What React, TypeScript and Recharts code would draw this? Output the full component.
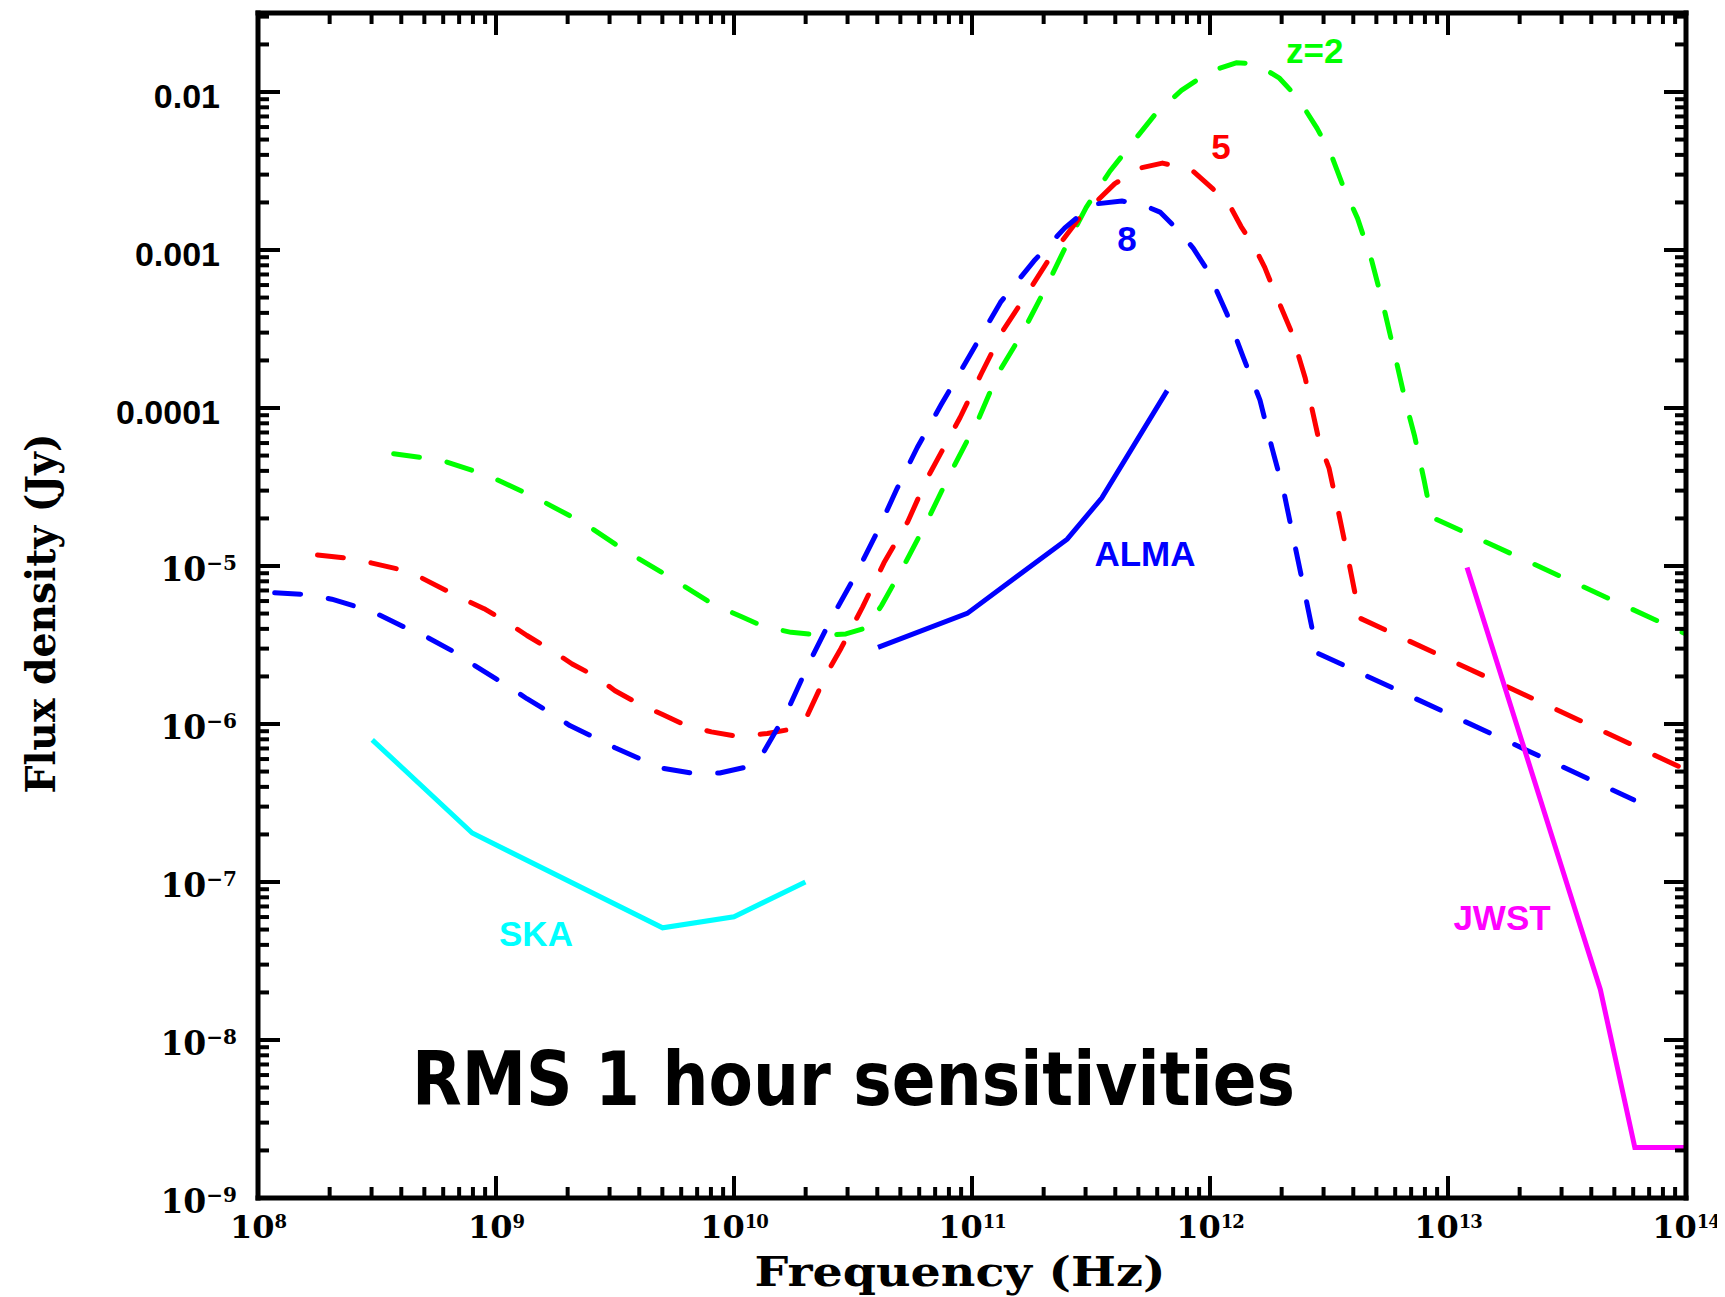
import React from 'react';
import { LineChart, Line, XAxis, YAxis, ReferenceDot } from 'recharts';

// All values: log10(frequency / Hz) and log10(flux density / Jy)

// z = 2 model (green, dashed)
const z2LogNu = [8.57, 8.77, 8.97, 9.17, 9.37, 9.54, 9.73, 9.91, 10.03, 10.12, 10.24, 10.38, 10.47, 10.56, 10.62, 10.72, 10.81, 10.9, 11.03, 11.11, 11.21, 11.31, 11.39, 11.48, 11.58, 11.68, 11.77, 11.88, 12.0, 12.11, 12.19, 12.29, 12.37, 12.45, 12.51, 12.56, 12.62, 12.68, 12.72, 12.77, 12.82, 12.86, 12.9, 12.93, 14.0];
const z2LogS = [-4.29, -4.33, -4.43, -4.57, -4.73, -4.9, -5.07, -5.24, -5.32, -5.38, -5.42, -5.44, -5.43, -5.39, -5.25, -4.98, -4.72, -4.44, -4.06, -3.78, -3.53, -3.24, -2.99, -2.73, -2.5, -2.31, -2.14, -1.99, -1.87, -1.815, -1.82, -1.91, -2.04, -2.23, -2.4, -2.6, -2.8, -3.07, -3.3, -3.62, -3.95, -4.18, -4.46, -4.69, -5.43];

// z = 5 model (red, dashed)
const z5LogNu = [8.25, 8.37, 8.475, 8.59, 8.68, 8.85, 8.95, 9.05, 9.13, 9.23, 9.32, 9.42, 9.5, 9.61, 9.7, 9.8, 9.905, 10.02, 10.14, 10.25, 10.31, 10.39, 10.45, 10.54, 10.63, 10.73, 10.81, 10.95, 11.04, 11.13, 11.23, 11.34, 11.45, 11.6, 11.71, 11.8, 11.92, 12.01, 12.08, 12.13, 12.19, 12.23, 12.27, 12.34, 12.4, 12.46, 12.5, 12.54, 12.58, 12.63, 14.0];
const z5LogS = [-4.93, -4.95, -4.98, -5.02, -5.07, -5.2, -5.27, -5.36, -5.44, -5.53, -5.62, -5.7, -5.79, -5.88, -5.94, -6.01, -6.05, -6.08, -6.06, -6.03, -5.94, -5.68, -5.52, -5.26, -4.98, -4.72, -4.45, -4.06, -3.78, -3.51, -3.28, -3.02, -2.8, -2.58, -2.48, -2.45, -2.49, -2.61, -2.71, -2.85, -2.99, -3.11, -3.26, -3.51, -3.81, -4.22, -4.38, -4.66, -4.95, -5.33, -6.29];

// z = 8 model (blue, dashed)
const z8LogNu = [8.07, 8.2, 8.31, 8.42, 8.51, 8.62, 8.71, 8.82, 8.9, 9.05, 9.13, 9.23, 9.31, 9.42, 9.5, 9.62, 9.7, 9.82, 9.94, 10.06, 10.12, 10.22, 10.32, 10.41, 10.51, 10.6, 10.685, 10.77, 10.87, 11.02, 11.12, 11.26, 11.39, 11.51, 11.63, 11.71, 11.79, 11.87, 11.93, 11.99, 12.07, 12.14, 12.21, 12.26, 12.31, 12.35, 12.39, 12.45, 13.78];
const z8LogS = [-5.17, -5.18, -5.21, -5.26, -5.31, -5.39, -5.45, -5.54, -5.62, -5.76, -5.84, -5.93, -6.01, -6.09, -6.15, -6.23, -6.28, -6.31, -6.31, -6.27, -6.19, -5.93, -5.6, -5.33, -5.06, -4.79, -4.51, -4.25, -3.98, -3.59, -3.33, -3.07, -2.86, -2.71, -2.69, -2.71, -2.76, -2.88, -2.99, -3.13, -3.4, -3.68, -3.95, -4.25, -4.53, -4.82, -5.11, -5.55, -6.48];

// Instrument sensitivities (solid)
const skaLogNu = [8.48, 8.9, 9.7, 10.0, 10.3];
const skaLogS = [-6.1, -6.69, -7.29, -7.22, -7.0];
const almaLogNu = [10.605, 10.98, 11.4, 11.545, 11.82];
const almaLogS = [-5.515, -5.3, -4.83, -4.57, -3.89];
const jwstLogNu = [13.08, 13.64, 13.785, 14.0];
const jwstLogS = [-5.01, -7.68, -8.68, -8.68];

// Text annotations, placed in data space
const labelTexts = ['z=2', '5', '8', 'ALMA', 'SKA', 'JWST'];
const labelLogNu = [12.44, 12.046, 11.651, 11.727, 9.168, 13.227];
const labelLogS = [-1.74, -2.346, -2.928, -4.92, -7.324, -7.223];
const labelColors = ['#00ff00', '#ff0000', '#0000ff', '#0000ff', '#00ffff', '#ff00ff'];
const titleText = 'RMS 1 hour sensitivities';
const titleLogNu = 8.647;
const titleLogS = -8.412;

// Axes
const xMajorExp = [8, 9, 10, 11, 12, 13, 14];
const yMajorExp = [-9, -8, -7, -6, -5, -4, -3, -2];
const yDecimalLabels: Record<string, string> = { '-2': '0.01', '-3': '0.001', '-4': '0.0001' };
const minorMultipliers = [2, 3, 4, 5, 6, 7, 8, 9];
const xDomain = [1e8, 1e14];
const yDomain = [1e-9, Math.pow(10, -1.5)];

const rows = (lx: number[], ls: number[]) => lx.map((v, i) => ({ nu: Math.pow(10, v), s: Math.pow(10, ls[i]) }));
const z2Data = rows(z2LogNu, z2LogS);
const z5Data = rows(z5LogNu, z5LogS);
const z8Data = rows(z8LogNu, z8LogS);
const skaData = rows(skaLogNu, skaLogS);
const almaData = rows(almaLogNu, almaLogS);
const jwstData = rows(jwstLogNu, jwstLogS);

const withMinor = (majors: number[], maxVal: number) => {
  const out: number[] = [];
  majors.forEach((e) => {
    out.push(Math.pow(10, e));
    minorMultipliers.forEach((k) => {
      const v = k * Math.pow(10, e);
      if (v < maxVal * 0.999) out.push(v);
    });
  });
  return out;
};
const xTicks = withMinor(xMajorExp, xDomain[1]);
const yTicks = withMinor(yMajorExp, yDomain[1]);

const isMajor = (v: number) => {
  const e = Math.log10(v);
  return Math.abs(e - Math.round(e)) < 1e-6;
};

const MAJ = 22;
const MIN = 11;
const TW = 4;
const serif = 'DejaVu Serif';
const sans = 'Liberation Sans, Arial, sans-serif';

const BottomTick = (p: any) => {
  const { x, y, payload } = p;
  const major = isMajor(payload.value);
  const e = Math.round(Math.log10(payload.value));
  return (
    <g>
      <line x1={x} x2={x} y1={y} y2={y - (major ? MAJ : MIN)} stroke="#000" strokeWidth={TW} />
      {major && (
        <text x={x} y={y + 40} textAnchor="middle" fontFamily={serif} fontWeight="bold" fontSize={32} fill="#000">
          10<tspan dy={-10} fontSize={18} letterSpacing={-1}>{e}</tspan>
        </text>
      )}
    </g>
  );
};

const TopTick = (p: any) => {
  const { x, y, payload } = p;
  const major = isMajor(payload.value);
  return <line x1={x} x2={x} y1={y} y2={y + (major ? MAJ : MIN)} stroke="#000" strokeWidth={TW} />;
};

const LeftTick = (p: any) => {
  const { x, y, payload } = p;
  const major = isMajor(payload.value);
  const e = Math.round(Math.log10(payload.value));
  let label: any = null;
  if (major) {
    const dec = yDecimalLabels[String(e)];
    if (dec) {
      label = (
        <text x={x - 38} y={y + 16} textAnchor="end" fontFamily={sans} fontWeight="bold" fontSize={34} fill="#000">
          {dec}
        </text>
      );
    } else {
      label = (
        <text x={x - 21} y={y + 15} textAnchor="end" fontFamily={serif} fontWeight="bold" fontSize={33} fill="#000">
          10<tspan dy={-11} fontSize={20}>{'\u2212' + Math.abs(e)}</tspan>
        </text>
      );
    }
  }
  return (
    <g>
      <line x1={x} x2={x + (major ? MAJ : MIN)} y1={y} y2={y} stroke="#000" strokeWidth={TW} />
      {label}
    </g>
  );
};

const RightTick = (p: any) => {
  const { x, y, payload } = p;
  const major = isMajor(payload.value);
  return <line x1={x} x2={x - (major ? MAJ : MIN)} y1={y} y2={y} stroke="#000" strokeWidth={TW} />;
};

const axisLine = { stroke: '#000', strokeWidth: 5, strokeLinecap: 'square' as const };
const dash = '26 28';

export default function App() {
  return (
    <LineChart width={1717} height={1289} margin={{ top: 4, right: 38, bottom: 98, left: 249 }} style={{ overflow: 'visible' }}>
      <XAxis
        xAxisId="b"
        dataKey="nu"
        type="number"
        scale="log"
        domain={xDomain}
        allowDataOverflow
        ticks={xTicks}
        interval={0}
        height={1}
        tickSize={0}
        tickMargin={0}
        tickLine={false}
        axisLine={axisLine}
        tick={BottomTick}
        label={{
          content: (lp: any) => {
            const vb = lp.viewBox || { x: 250, y: 1190, width: 1428 };
            return (
              <text
                x={vb.x + vb.width / 2 - 12}
                y={vb.y + 88}
                textAnchor="middle"
                fontFamily={serif}
                fontWeight="bold"
                fontSize={41}
                textLength={411}
                lengthAdjust="spacingAndGlyphs"
                fill="#000"
              >
                Frequency (Hz)
              </text>
            );
          },
        }}
      />
      <XAxis
        xAxisId="t"
        orientation="top"
        dataKey="nu"
        type="number"
        scale="log"
        domain={xDomain}
        allowDataOverflow
        ticks={xTicks}
        interval={0}
        height={1}
        tickSize={0}
        tickMargin={0}
        tickLine={false}
        axisLine={axisLine}
        tick={TopTick}
      />
      <YAxis
        yAxisId="l"
        dataKey="s"
        type="number"
        scale="log"
        domain={yDomain}
        allowDataOverflow
        ticks={yTicks}
        interval={0}
        width={1}
        tickSize={0}
        tickMargin={0}
        tickLine={false}
        axisLine={axisLine}
        tick={LeftTick}
        label={{
          content: (lp: any) => {
            const vb = lp.viewBox || { x: 249, y: 5, width: 1, height: 1185 };
            const cx = vb.x + (vb.width || 0) - 203;
            const cy = vb.y + vb.height / 2 + 8;
            return (
              <text
                x={0}
                y={0}
                transform={`translate(${cx}, ${cy}) rotate(-90)`}
                textAnchor="middle"
                fontFamily={serif}
                fontWeight="bold"
                fontSize={41}
                textLength={360}
                lengthAdjust="spacingAndGlyphs"
                fill="#000"
              >
                Flux density (Jy)
              </text>
            );
          },
        }}
      />
      <YAxis
        yAxisId="r"
        orientation="right"
        dataKey="s"
        type="number"
        scale="log"
        domain={yDomain}
        allowDataOverflow
        ticks={yTicks}
        interval={0}
        width={1}
        tickSize={0}
        tickMargin={0}
        tickLine={false}
        axisLine={axisLine}
        tick={RightTick}
      />

      <Line xAxisId="b" yAxisId="l" data={z2Data} dataKey="s" type="linear" stroke="#00ff00" strokeWidth={5} strokeDasharray={dash} strokeLinecap="round" strokeLinejoin="round" dot={false} activeDot={false} isAnimationActive={false} />
      <Line xAxisId="b" yAxisId="l" data={z5Data} dataKey="s" type="linear" stroke="#ff0000" strokeWidth={5} strokeDasharray={dash} strokeLinecap="round" strokeLinejoin="round" dot={false} activeDot={false} isAnimationActive={false} />
      <Line xAxisId="b" yAxisId="l" data={z8Data} dataKey="s" type="linear" stroke="#0000ff" strokeWidth={5} strokeDasharray={dash} strokeLinecap="round" strokeLinejoin="round" dot={false} activeDot={false} isAnimationActive={false} />
      <Line xAxisId="b" yAxisId="l" data={skaData} dataKey="s" type="linear" stroke="#00ffff" strokeWidth={5} dot={false} activeDot={false} isAnimationActive={false} />
      <Line xAxisId="b" yAxisId="l" data={almaData} dataKey="s" type="linear" stroke="#0000ff" strokeWidth={5} dot={false} activeDot={false} isAnimationActive={false} />
      <Line xAxisId="b" yAxisId="l" data={jwstData} dataKey="s" type="linear" stroke="#ff00ff" strokeWidth={5} dot={false} activeDot={false} isAnimationActive={false} />

      {labelTexts.map((t, i) => (
        <ReferenceDot
          key={t}
          xAxisId="b"
          yAxisId="l"
          x={Math.pow(10, labelLogNu[i])}
          y={Math.pow(10, labelLogS[i])}
          r={0}
          ifOverflow="visible"
          shape={(sp: any) => (
            <text x={sp.cx} y={sp.cy} textAnchor="middle" dominantBaseline="central" fontFamily={sans} fontWeight="bold" fontSize={35} fill={labelColors[i]}>
              {t}
            </text>
          )}
        />
      ))}
      <ReferenceDot
        xAxisId="b"
        yAxisId="l"
        x={Math.pow(10, titleLogNu)}
        y={Math.pow(10, titleLogS)}
        r={0}
        ifOverflow="visible"
        shape={(sp: any) => (
          <text x={sp.cx} y={sp.cy} textAnchor="start" fontFamily="DejaVu Sans" fontWeight="bold" fontSize={74} textLength={883} lengthAdjust="spacingAndGlyphs" fill="#000">
            {titleText}
          </text>
        )}
      />
    </LineChart>
  );
}
